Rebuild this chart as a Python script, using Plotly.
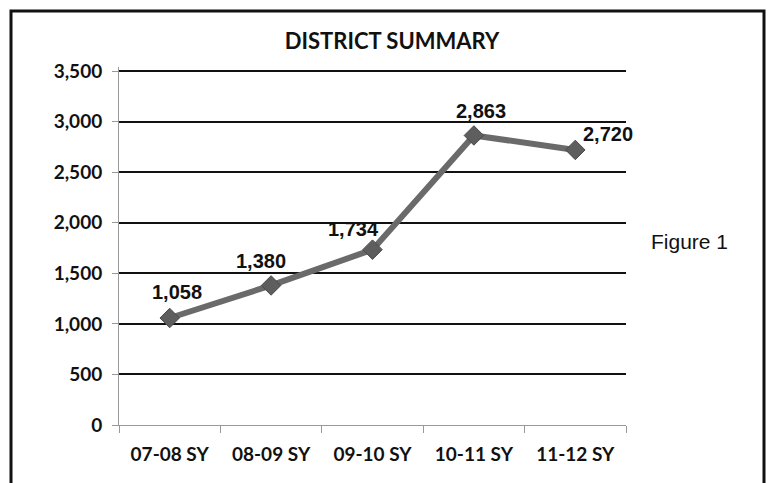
import plotly.graph_objects as go

categories = ["07-08 SY", "08-09 SY", "09-10 SY", "10-11 SY", "11-12 SY"]
values = [1058, 1380, 1734, 2863, 2720]
value_labels = ["1,058", "1,380", "1,734", "2,863", "2,720"]
y_ticks = [0, 500, 1000, 1500, 2000, 2500, 3000, 3500]
y_tick_labels = ["0", "500", "1,000", "1,500", "2,000", "2,500", "3,000", "3,500"]

# label pixel offsets (style)
label_dx = [7, -10, -19, 7, 33]
label_dy = [26, 24, 21, 24, 16]

W, H = 770, 483
Y_TOP = 3540
ML, MR, MT, MB = 119, 144, 67, 58
PW, PH = W - ML - MR, H - MT - MB

fig = go.Figure()
fig.add_trace(go.Scatter(
    x=categories, y=values, mode="lines+markers",
    line=dict(color="#6a6a6a", width=6),
    marker=dict(symbol="diamond", size=15, color="#5e5e5e",
                line=dict(color="#4a4a4a", width=1)),
    hoverinfo="skip", showlegend=False,
))

for c, v, t, dx, dy in zip(categories, values, value_labels, label_dx, label_dy):
    fig.add_annotation(x=c, y=v, text="<b>" + t + "</b>", showarrow=False,
                       xshift=dx, yshift=dy,
                       font=dict(family="Liberation Sans, Arial", size=20, color="#111"))

fig.add_annotation(xref="paper", yref="paper", xanchor="center", yanchor="middle",
                   x=(689 - ML) / PW, y=1 - (241 - MT) / PH,
                   text="Figure 1", showarrow=False,
                   font=dict(family="Liberation Sans, Arial", size=21, color="#111"))

# outer frame
fig.add_shape(type="rect", xref="paper", yref="paper",
              x0=(11 - ML) / PW, x1=(764 - ML) / PW,
              y0=1 - (500 - MT) / PH, y1=1 - (11 - MT) / PH,
              line=dict(color="#111", width=3), fillcolor="rgba(0,0,0,0)")

fig.update_layout(
    width=W, height=H,
    margin=dict(l=ML, r=MR, t=MT, b=MB),
    paper_bgcolor="white", plot_bgcolor="white",
    title=dict(text="<b>DISTRICT SUMMARY</b>", x=392 / W, xanchor="center",
               y=1 - 41 / H, yanchor="middle",
               font=dict(family="Lato", size=22, color="#111")),
    xaxis=dict(
        type="category", range=[-0.5, 4.5], tickson="boundaries",
        ticks="outside", ticklen=7, tickcolor="#999", tickwidth=1,
        showline=True, linecolor="#999", linewidth=1,
        showgrid=False, zeroline=False,
        tickfont=dict(family="Lato", size=19, color="#111", weight="bold"),
        ticklabelstandoff=12,
    ),
    yaxis=dict(
        range=[0, Y_TOP], tickvals=y_ticks, ticktext=y_tick_labels,
        ticks="outside", ticklen=6, tickcolor="#999", tickwidth=1,
        showline=True, linecolor="#999", linewidth=1,
        showgrid=True, gridcolor="#111", gridwidth=1.5, zeroline=False,
        tickfont=dict(family="Lato", size=19, color="#111", weight="bold"),
        ticklabelstandoff=6,
    ),
)

fig.write_html("out.html", config={"displayModeBar": False},
               post_script="document.body.style.margin='0';document.body.style.overflow='hidden';")
